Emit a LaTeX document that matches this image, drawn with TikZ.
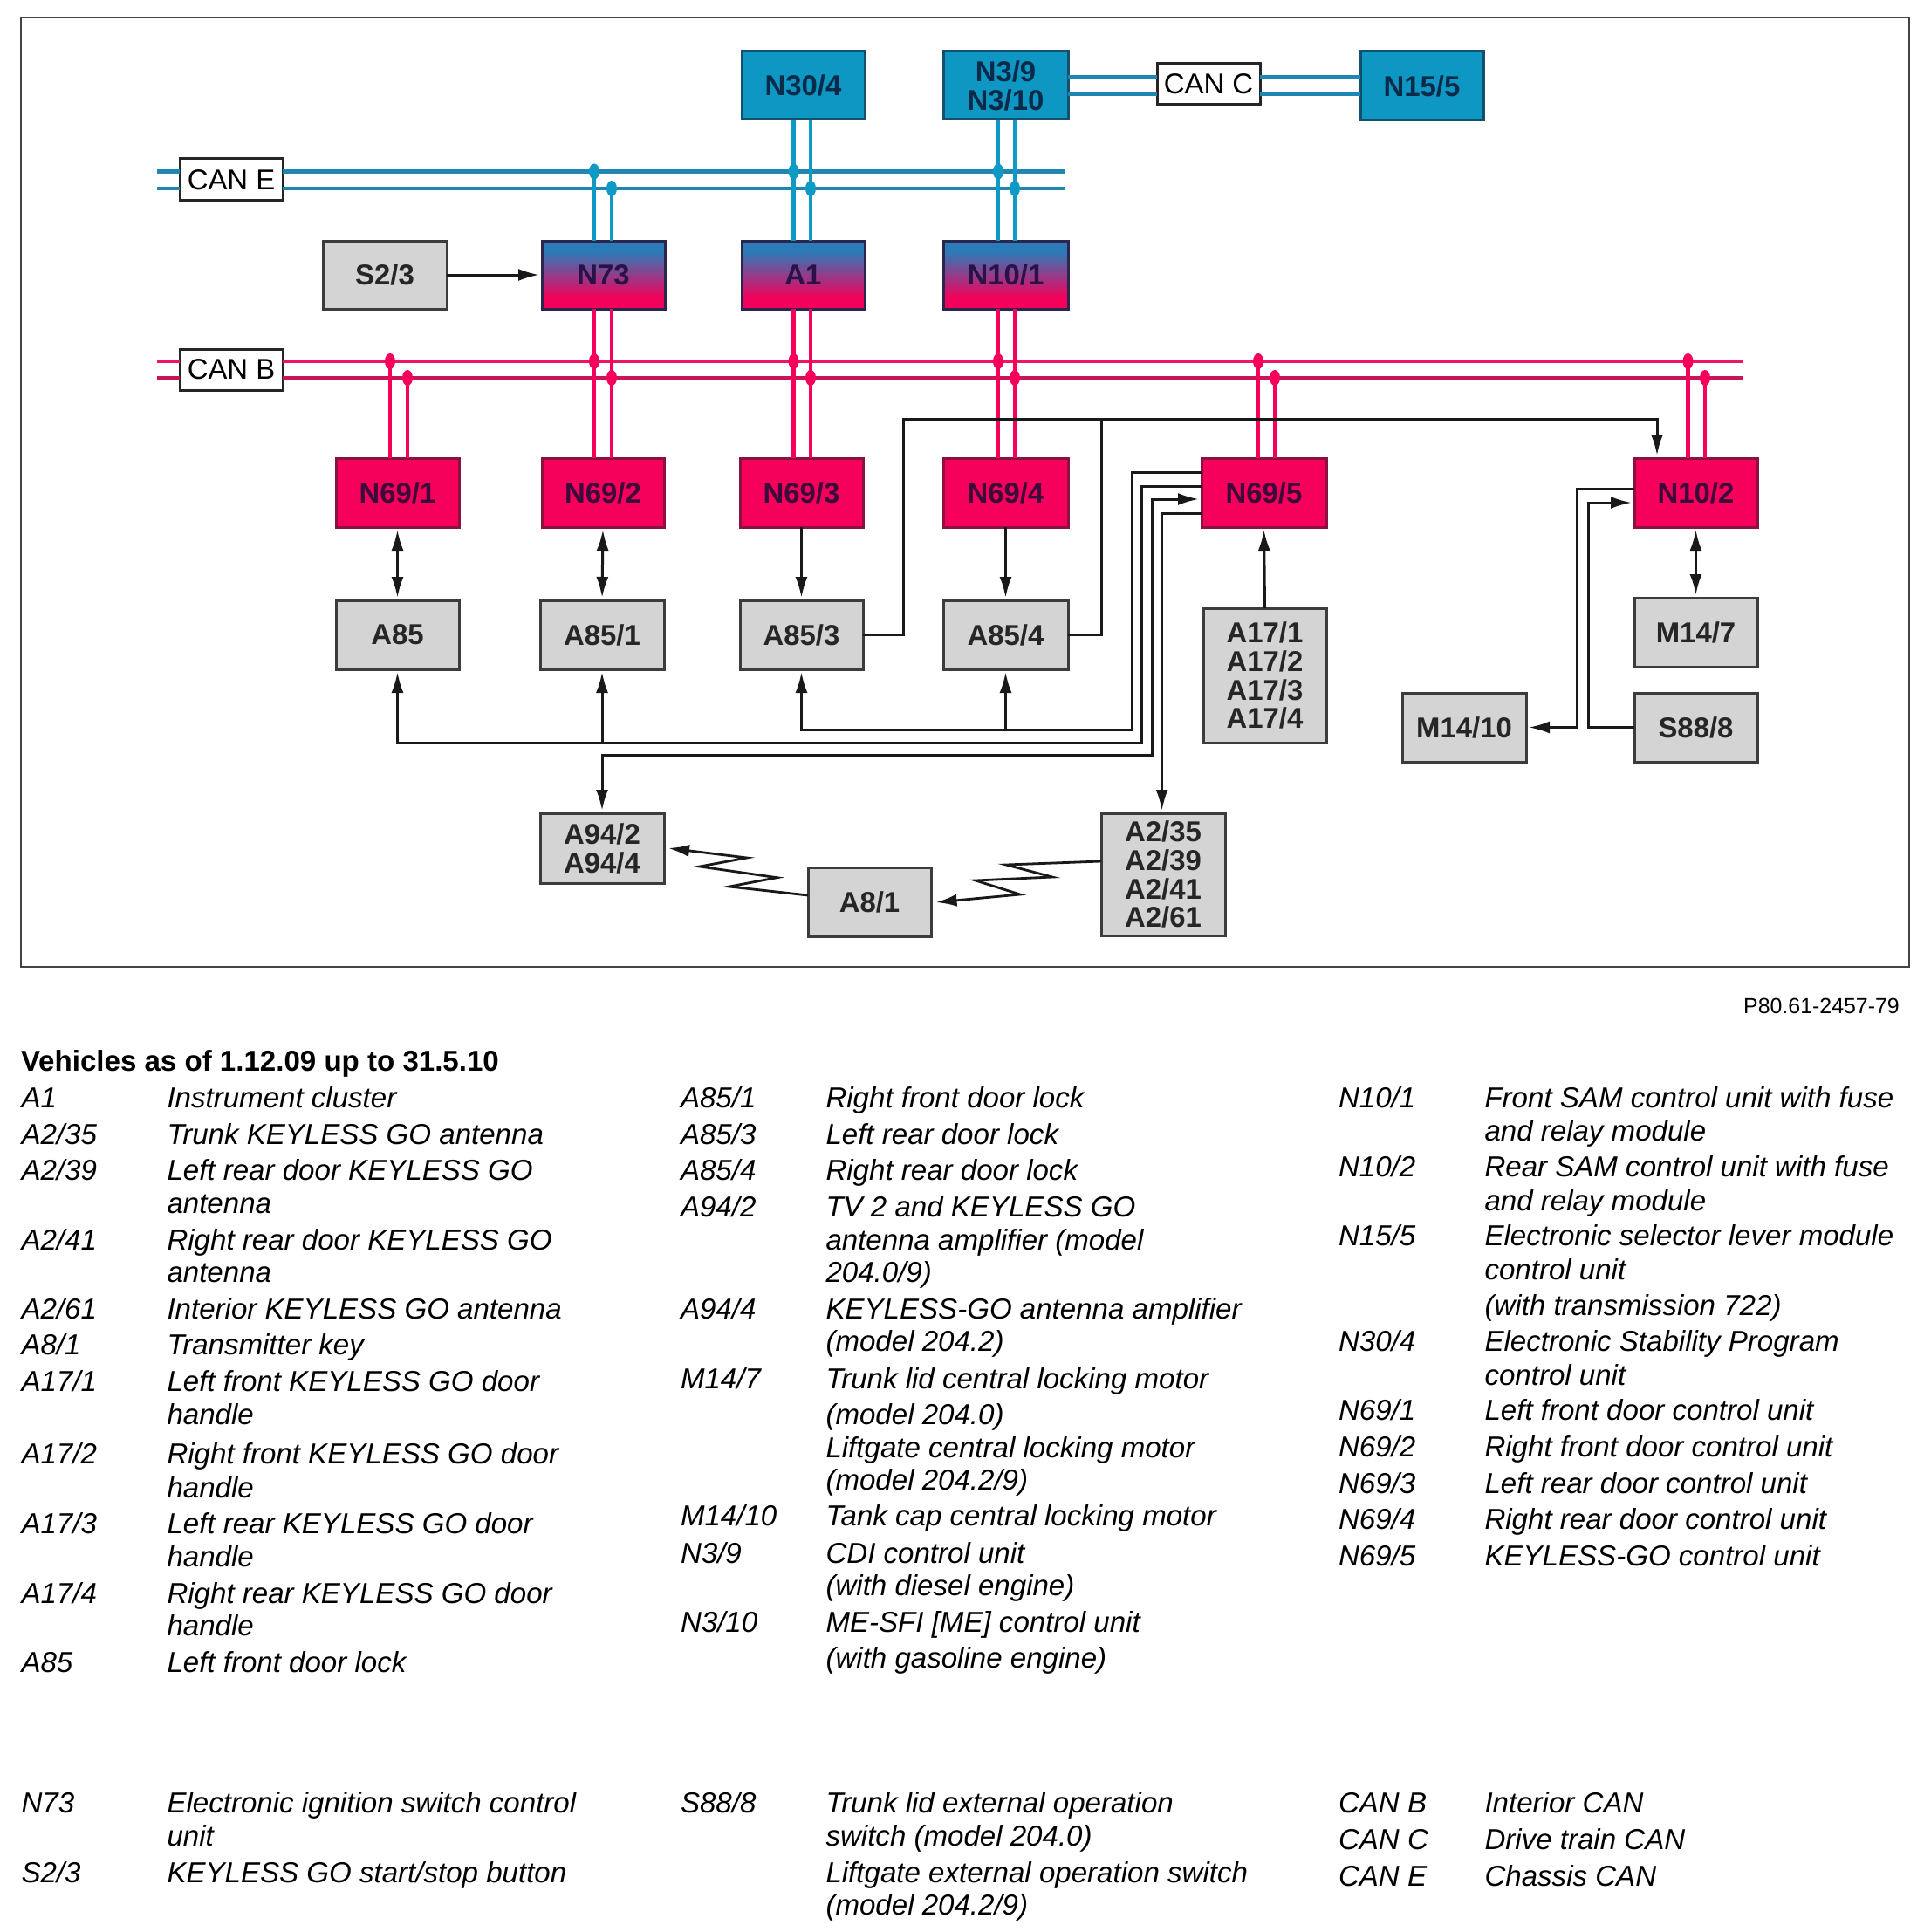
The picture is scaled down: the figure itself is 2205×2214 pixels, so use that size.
\documentclass[tikz,border=0pt]{standalone}
\usepackage{fontspec}
\setmainfont{Liberation Sans}
\usetikzlibrary{arrows.meta}
\definecolor{bluefill}{HTML}{0E97C2}
\definecolor{blueedge}{HTML}{14506E}
\definecolor{bluebus}{HTML}{1F86B2}
\definecolor{bluewire}{HTML}{0E9AC4}
\definecolor{pinkfill}{HTML}{F5005A}
\definecolor{pinkedge}{HTML}{8C1040}
\definecolor{pinkbus}{HTML}{EE1566}
\definecolor{pinkbusb}{HTML}{C9145A}
\definecolor{gradblue}{HTML}{2D7AB8}
\definecolor{gradedge}{HTML}{2B2650}
\definecolor{greyfill}{HTML}{D4D4D4}
\definecolor{greyedge}{HTML}{3C3C3C}
\definecolor{framegrey}{HTML}{444444}
\definecolor{bluetext}{HTML}{0B2A4A}
\definecolor{pinktext}{HTML}{3C0A3A}
\definecolor{gradtext}{HTML}{2A1248}
\pgfdeclareverticalshading{canmix}{100bp}{color(0bp)=(pinkfill); color(33bp)=(pinkfill); color(67bp)=(gradblue); color(100bp)=(gradblue)}
\newcounter{legcount}
\newcommand\bx[7]{\node[#1,anchor=north west,minimum width={(#5-#3)*1bp},minimum height={(#6-#4)*1bp}] (#2) at (#3,#4) {#7};}
\newcommand\legline[3]{\stepcounter{legcount}\node[legtext] (leg\thelegcount) at (#1,#2) {#3};}
\newcommand\legbold[3]{\stepcounter{legcount}\node[legtext,font=\fontsize{33.2}{33}\selectfont\bfseries] (leg\thelegcount) at (#1,#2) {#3};}
\tikzset{
 ecu/.style={inner sep=0pt,outer sep=0pt,align=center,font=\fontsize{33}{33}\selectfont\bfseries},
 bluebox/.style={ecu,fill=bluefill,draw=blueedge,line width=3bp,text=bluetext},
 pinkbox/.style={ecu,fill=pinkfill,draw=pinkedge,line width=3bp,text=pinktext},
 mixbox/.style={ecu,shading=canmix,draw=gradedge,line width=3bp,text=gradtext},
 greybox/.style={ecu,fill=greyfill,draw=greyedge,line width=3bp,text=black!85},
 canbox/.style={inner sep=0pt,outer sep=0pt,fill=white,draw=black!85,line width=3bp,font=\fontsize{33}{33}\selectfont},
 ebus/.style={draw=bluebus,line width=4.5bp},
 ewire/.style={draw=bluewire,line width=4.5bp},
 bbus/.style={draw=pinkbus,line width=4.5bp},
 bbusb/.style={draw=pinkbusb,line width=4.5bp},
 bwire/.style={draw=pinkfill,line width=4.5bp},
 edot/.style={fill=bluewire},
 bdot/.style={fill=pinkfill},
 sig/.style={draw=black!90,line width=3bp,line join=miter},
 toarrow/.style={sig,-{Latex[length=24bp,width=14bp]},shorten >=3bp},
 botharrow/.style={sig,{Latex[length=24bp,width=14bp]}-{Latex[length=24bp,width=14bp]},shorten >=3bp,shorten <=3bp},
 radio/.style={draw=black!90,line width=2.8bp,-{Latex[length=24bp,width=14bp]},line join=miter},
 legtext/.style={anchor=base west,inner sep=0pt,outer sep=0pt,font=\fontsize{33.2}{33}\selectfont\itshape,text=black}
}
\begin{document}
\begin{tikzpicture}[x=1bp,y=-1bp]
\useasboundingbox (0,0) rectangle (2205,2214);
\fill[white] (0,0) rectangle (2205,2214);
\draw[framegrey,line width=2bp] (24,20) rectangle (2188,1108);

% boxes
\bx{bluebox}{N304}{850}{59}{991}{137}{N30/4}
\bx{bluebox}{N39}{1081}{59}{1224}{137}{N3/9\\N3/10}
\bx{bluebox}{N155}{1559}{59}{1700}{138}{N15/5}
\bx{canbox}{CANC}{1326}{73}{1444}{120}{CAN C}
\bx{canbox}{CANE}{206}{182}{324}{230}{CAN E}
\bx{canbox}{CANB}{206}{400}{324}{447}{CAN B}
\bx{greybox}{S23}{370}{276}{512}{354}{S2/3}
\bx{mixbox}{N73}{621}{276}{762}{354}{N73}
\bx{mixbox}{A1}{850}{276}{991}{354}{A1}
\bx{mixbox}{N101}{1081}{276}{1224}{354}{N10/1}
\bx{pinkbox}{N691}{385}{525}{526}{604}{N69/1}
\bx{pinkbox}{N692}{621}{525}{761}{604}{N69/2}
\bx{pinkbox}{N693}{848}{525}{989}{604}{N69/3}
\bx{pinkbox}{N694}{1081}{525}{1224}{604}{N69/4}
\bx{pinkbox}{N695}{1377}{525}{1520}{604}{N69/5}
\bx{pinkbox}{N102}{1873}{525}{2014}{604}{N10/2}
\bx{greybox}{A85}{385}{688}{526}{767}{A85}
\bx{greybox}{A851}{619}{688}{761}{767}{A85/1}
\bx{greybox}{A853}{848}{688}{989}{767}{A85/3}
\bx{greybox}{A854}{1081}{688}{1224}{767}{A85/4}
\bx{greybox}{A17}{1379}{697}{1520}{851}{A17/1\\A17/2\\A17/3\\A17/4}
\bx{greybox}{M147}{1873}{685}{2014}{764}{M14/7}
\bx{greybox}{S888}{1873}{794}{2014}{873}{S88/8}
\bx{greybox}{M1410}{1607}{794}{1749}{873}{M14/10}
\bx{greybox}{A94}{619}{932}{761}{1012}{A94/2\\A94/4}
\bx{greybox}{A81}{926}{994}{1067}{1073}{A8/1}
\bx{greybox}{A235}{1262}{932}{1404}{1072}{A2/35\\A2/39\\A2/41\\A2/61}

% bus rails
\coordinate (railE1) at (180,196.5);
\coordinate (railE2) at (180,216);
\coordinate (railEend) at (1220,196.5);
\coordinate (railB1) at (180,414);
\coordinate (railB2) at (180,433);
\coordinate (railBend) at (1998,414);
\coordinate (railC1) at (1300,88.5);
\coordinate (railC2) at (1300,108);
\draw[ebus] (railE1) -- (CANE.west |- railE1) (CANE.east |- railE1) -- (railEend |- railE1);
\draw[ebus] (railE2) -- (CANE.west |- railE2) (CANE.east |- railE2) -- (railEend |- railE2);
\draw[bbus] (railB1) -- (CANB.west |- railB1) (CANB.east |- railB1) -- (railBend |- railB1);
\draw[bbusb] (railB2) -- (CANB.west |- railB2) (CANB.east |- railB2) -- (railBend |- railB2);
\draw[ebus] (N39.east |- railC1) -- (CANC.west |- railC1) (CANC.east |- railC1) -- (N155.west |- railC1);
\draw[ebus] (N39.east |- railC2) -- (CANC.west |- railC2) (CANC.east |- railC2) -- (N155.west |- railC2);

% drop-line columns
\coordinate (c1a) at (447,0);   \coordinate (c1b) at (467,0);
\coordinate (c2a) at (681,0);   \coordinate (c2b) at (701,0);
\coordinate (c3a) at (909.5,0); \coordinate (c3b) at (929,0);
\coordinate (c4a) at (1144,0);  \coordinate (c4b) at (1163,0);
\coordinate (c5a) at (1442,0);  \coordinate (c5b) at (1461,0);
\coordinate (c6a) at (1934.5,0);  \coordinate (c6b) at (1954,0);

% CAN E drops
\draw[ewire] (c2a |- railE1) -- (c2a |- N73.north);
\draw[ewire] (c2b |- railE2) -- (c2b |- N73.north);
\draw[ewire] (c3a |- N304.south) -- (c3a |- A1.north);
\draw[ewire] (c3b |- N304.south) -- (c3b |- A1.north);
\draw[ewire] (c4a |- N39.south) -- (c4a |- N101.north);
\draw[ewire] (c4b |- N39.south) -- (c4b |- N101.north);
\foreach \cl/\rl in {c2a/railE1,c2b/railE2,c3a/railE1,c3b/railE2,c4a/railE1,c4b/railE2}
  \fill[edot] (\cl |- \rl) ellipse (6 and 9);

% CAN B drops
\draw[bwire] (c1a |- railB1) -- (c1a |- N691.north);
\draw[bwire] (c1b |- railB2) -- (c1b |- N691.north);
\draw[bwire] (c2a |- N73.south) -- (c2a |- N692.north);
\draw[bwire] (c2b |- N73.south) -- (c2b |- N692.north);
\draw[bwire] (c3a |- A1.south) -- (c3a |- N693.north);
\draw[bwire] (c3b |- A1.south) -- (c3b |- N693.north);
\draw[bwire] (c4a |- N101.south) -- (c4a |- N694.north);
\draw[bwire] (c4b |- N101.south) -- (c4b |- N694.north);
\draw[bwire] (c5a |- railB1) -- (c5a |- N695.north);
\draw[bwire] (c5b |- railB2) -- (c5b |- N695.north);
\draw[bwire] (c6a |- railB1) -- (c6a |- N102.north);
\draw[bwire] (c6b |- railB2) -- (c6b |- N102.north);
\foreach \cl/\rl in {c1a/railB1,c1b/railB2,c2a/railB1,c2b/railB2,c3a/railB1,c3b/railB2,c4a/railB1,c4b/railB2,c5a/railB1,c5b/railB2,c6a/railB1,c6b/railB2}
  \fill[bdot] (\cl |- \rl) ellipse (6 and 9);

% signal lines
\draw[toarrow] (S23.east) -- (N73.west);
\draw[botharrow] (N691.south) -- (A85.north);
\draw[botharrow] (N692.south) -- (A851.north);
\draw[toarrow] (N693.south) -- (A853.north);
\draw[toarrow] (N694.south) -- (A854.north);
\draw[toarrow] (A17.north) -- (N695.south);
\draw[botharrow] (N102.south) -- (M147.north);

\coordinate (topA) at (1035,480.5);
\coordinate (topB) at (1262,480.5);
\coordinate (topC) at (1899,480.5);
\draw[toarrow] (A853.east) -- (topA |- A853.east) -- (topA) -- (topC) -- (topC |- N102.north);
\draw[sig] (A854.east) -- (topB |- A854.east) -- (topB);

\coordinate (k1) at (1297,541);   \coordinate (k1b) at (1297,836);
\coordinate (k2) at (1308.7,557); \coordinate (k2b) at (1308.7,851);
\coordinate (k3) at (1320,572);   \coordinate (k3b) at (1320,865);
\coordinate (k4) at (1331.6,588);
\draw[toarrow] (N695.west |- k1) -- (k1) -- (k1b) -- (k1b -| A853.south) -- (A853.south);
\draw[toarrow] (k1b -| A854.south) -- (A854.south);
\draw[toarrow] (N695.west |- k2) -- (k2) -- (k2b) -- (k2b -| A85.south) -- (A85.south);
\draw[toarrow] (k2b -| A851.south) -- (A851.south);
\draw[botharrow] (N695.west |- k3) -- (k3) -- (k3b) -- (k3b -| A94.north) -- (A94.north);
\draw[toarrow] (N695.west |- k4) -- (k4) -- (k4 |- A235.north);

\coordinate (r1) at (1807,560);
\coordinate (r2) at (1820,576);
\draw[toarrow] (N102.west |- r1) -- (r1) -- (r1 |- M1410.east) -- (M1410.east);
\draw[toarrow] (S888.west) -- (r2 |- S888.west) -- (r2) -- (N102.west |- r2);

% radio links
\coordinate (zA) at (926,1026);
\coordinate (zAend) at (766,972);
\coordinate (zB) at (1262,987);
\coordinate (zBend) at (1072.5,1034);
\draw[radio] (zA) -- (836,1016) -- (890.5,1005.7) -- (802,993) -- (856,983) -- (zAend);
\draw[radio] (zB) -- (1153,991) -- (1206,1005) -- (1118,1009) -- (1169,1025) -- (zBend);

% code
\node[anchor=base east,inner sep=0pt,font=\fontsize{25}{25}\selectfont] (code) at (2177,1161.5) {P80.61-2457-79};

% legend column 1
\legbold{24}{1227}{Vehicles as of 1.12.09 up to 31.5.10}
\legline{24.5}{1269}{A1}\legline{191.5}{1269}{Instrument cluster}
\legline{24.5}{1311}{A2/35}\legline{191.5}{1311}{Trunk KEYLESS GO antenna}
\legline{24.5}{1352}{A2/39}\legline{191.5}{1352}{Left rear door KEYLESS GO}
\legline{191.5}{1390}{antenna}
\legline{24.5}{1432}{A2/41}\legline{191.5}{1432}{Right rear door KEYLESS GO}
\legline{191.5}{1469}{antenna}
\legline{24.5}{1511}{A2/61}\legline{191.5}{1511}{Interior KEYLESS GO antenna}
\legline{24.5}{1552}{A8/1}\legline{191.5}{1552}{Transmitter key}
\legline{24.5}{1594}{A17/1}\legline{191.5}{1594}{Left front KEYLESS GO door}
\legline{191.5}{1632.5}{handle}
\legline{24.5}{1677}{A17/2}\legline{191.5}{1677}{Right front KEYLESS GO door}
\legline{191.5}{1716}{handle}
\legline{24.5}{1757.5}{A17/3}\legline{191.5}{1757.5}{Left rear KEYLESS GO door}
\legline{191.5}{1795}{handle}
\legline{24.5}{1837}{A17/4}\legline{191.5}{1837}{Right rear KEYLESS GO door}
\legline{191.5}{1874}{handle}
\legline{24.5}{1916}{A85}\legline{191.5}{1916}{Left front door lock}

% legend column 2
\legline{780}{1269}{A85/1}\legline{946.5}{1269}{Right front door lock}
\legline{780}{1311}{A85/3}\legline{946.5}{1311}{Left rear door lock}
\legline{780}{1352}{A85/4}\legline{946.5}{1352}{Right rear door lock}
\legline{780}{1394}{A94/2}\legline{946.5}{1394}{TV 2 and KEYLESS GO}
\legline{946.5}{1432}{antenna amplifier (model}
\legline{946.5}{1469}{204.0/9)}
\legline{780}{1511}{A94/4}\legline{946.5}{1511}{KEYLESS-GO antenna amplifier}
\legline{946.5}{1548}{(model 204.2)}
\legline{780}{1591}{M14/7}\legline{946.5}{1591}{Trunk lid central locking motor}
\legline{946.5}{1632.5}{(model 204.0)}
\legline{946.5}{1670}{Liftgate central locking motor}
\legline{946.5}{1707.5}{(model 204.2/9)}
\legline{780}{1748}{M14/10}\legline{946.5}{1748}{Tank cap central locking motor}
\legline{780}{1791}{N3/9}\legline{946.5}{1791}{CDI control unit}
\legline{946.5}{1828}{(with diesel engine)}
\legline{780}{1870}{N3/10}\legline{946.5}{1870}{ME-SFI [ME] control unit}
\legline{946.5}{1911.5}{(with gasoline engine)}

% legend column 3
\legline{1534}{1269}{N10/1}\legline{1701.5}{1269}{Front SAM control unit with fuse}
\legline{1701.5}{1307.5}{and relay module}
\legline{1534}{1348}{N10/2}\legline{1701.5}{1348}{Rear SAM control unit with fuse}
\legline{1701.5}{1387}{and relay module}
\legline{1534}{1427.5}{N15/5}\legline{1701.5}{1427.5}{Electronic selector lever module}
\legline{1701.5}{1466}{control unit}
\legline{1701.5}{1507.5}{(with transmission 722)}
\legline{1534}{1548}{N30/4}\legline{1701.5}{1548}{Electronic Stability Program}
\legline{1701.5}{1587}{control unit}
\legline{1534}{1627.5}{N69/1}\legline{1701.5}{1627.5}{Left front door control unit}
\legline{1534}{1669}{N69/2}\legline{1701.5}{1669}{Right front door control unit}
\legline{1534}{1711.5}{N69/3}\legline{1701.5}{1711.5}{Left rear door control unit}
\legline{1534}{1752.5}{N69/4}\legline{1701.5}{1752.5}{Right rear door control unit}
\legline{1534}{1794}{N69/5}\legline{1701.5}{1794}{KEYLESS-GO control unit}

% bottom block
\legline{24.5}{2077}{N73}\legline{191.5}{2077}{Electronic ignition switch control}
\legline{191.5}{2115}{unit}
\legline{24.5}{2157}{S2/3}\legline{191.5}{2157}{KEYLESS GO start/stop button}
\legline{780}{2077}{S88/8}\legline{946.5}{2077}{Trunk lid external operation}
\legline{946.5}{2115}{switch (model 204.0)}
\legline{946.5}{2157}{Liftgate external operation switch}
\legline{946.5}{2194}{(model 204.2/9)}
\legline{1534}{2077}{CAN B}\legline{1701.5}{2077}{Interior CAN}
\legline{1534}{2119}{CAN C}\legline{1701.5}{2119}{Drive train CAN}
\legline{1534}{2161}{CAN E}\legline{1701.5}{2161}{Chassis CAN}
\end{tikzpicture}
\end{document}
